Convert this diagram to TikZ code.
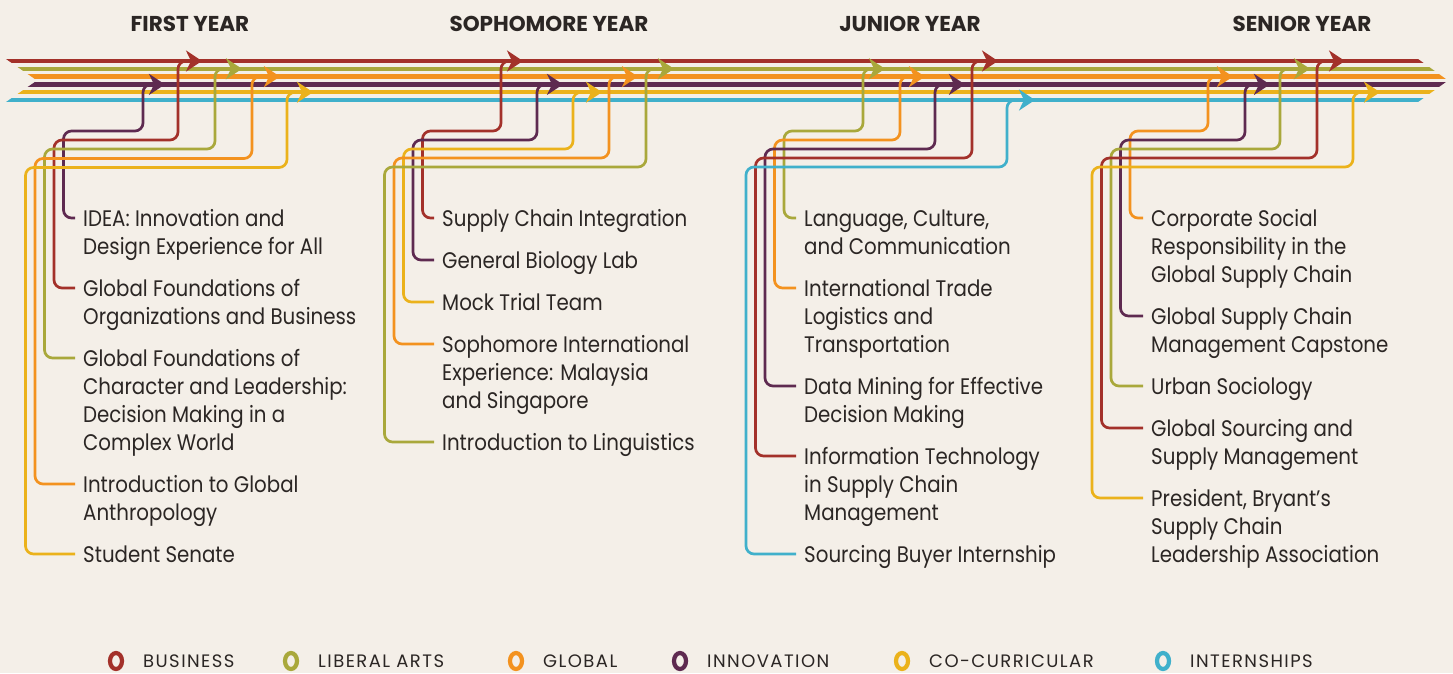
\documentclass[tikz,border=0pt]{standalone}
\usepackage{fontspec}
\setmainfont{Poppins}[FakeStretch=0.88]
\newfontfamily\headfont{Poppins}
\newfontfamily\legfont{Poppins}[LetterSpace=8]
\usetikzlibrary{arrows.meta}
\definecolor{bg}{HTML}{F4EFE8}
\definecolor{cR}{HTML}{A3312A}
\definecolor{cO}{HTML}{A9A83B}
\definecolor{cG}{HTML}{F3921F}
\definecolor{cP}{HTML}{5E2A50}
\definecolor{cY}{HTML}{EBB21B}
\definecolor{cT}{HTML}{40B0CB}
\definecolor{txt}{HTML}{2B2624}
\newcommand{\lbltxt}[1]{\begin{tabular}[t]{@{}l@{}}#1\end{tabular}}
\tikzset{
  br/.style={line width=2.7pt, rounded corners=8pt, -{Stealth[length=16pt,width=21pt,inset=5pt]}},
  lbl/.style={anchor=base west, inner sep=0pt, text=txt, font=\fontsize{22.5}{28}\selectfont},
  head/.style={anchor=base, inner sep=0pt, text=txt, font=\headfont\bfseries\fontsize{21.5}{24}\selectfont},
  leg/.style={anchor=base west, inner sep=0pt, text=txt, font=\legfont\fontsize{18}{20}\selectfont},
  ring/.style={line width=4.2pt},
}
\begin{document}
\begin{tikzpicture}[x=1pt,y=-1pt]
\fill[bg] (0,0) rectangle (1453,673);
\useasboundingbox (0,0) rectangle (1453,673);
% headings
\node[head] (h1) at (190,31) {FIRST YEAR};
\node[head] (h2) at (549,31) {SOPHOMORE YEAR};
\node[head] (h3) at (910,31) {JUNIOR YEAR};
\node[head] (h4) at (1302,31) {SENIOR YEAR};
% main lines
\begin{scope}
\clip (0.2,55) -- (1412.5,55) -- (1448,80.5) -- (1412.5,106) -- (0.2,106) -- (37,80.5) -- cycle;
\foreach \c/\y in {cR/61, cO/68.8, cG/76.6, cP/84.4, cY/92.2, cT/100}
  \draw[color=\c, line width=4.3pt] (0,\y) -- (1453,\y);
\end{scope}
% arrow tip coordinates
\coordinate (a11) at (165,84.4);
\coordinate (a12) at (202,61);
\coordinate (a13) at (242,68.8);
\coordinate (a14) at (280,76.6);
\coordinate (a15) at (313,92.2);
\coordinate (a21) at (523,61);
\coordinate (a22) at (563,84.4);
\coordinate (a23) at (602,92.2);
\coordinate (a24) at (638,76.6);
\coordinate (a25) at (674,68.8);
\coordinate (a31) at (885,68.8);
\coordinate (a32) at (925,76.6);
\coordinate (a33) at (965,84.4);
\coordinate (a34) at (998,61);
\coordinate (a35) at (1035,100);
\coordinate (a41) at (1233,76.6);
\coordinate (a42) at (1270,84.4);
\coordinate (a43) at (1310,68.8);
\coordinate (a44) at (1345,61);
\coordinate (a45) at (1380,92.2);
% labels first year
\node[lbl] (l11) at (83,226) {\lbltxt{IDEA: Innovation and\\Design Experience for All}};
\node[lbl] (l12) at (83,296) {\lbltxt{Global Foundations of\\Organizations and Business}};
\node[lbl] (l13) at (83,366) {\lbltxt{Global Foundations of\\Character and Leadership:\\Decision Making in a\\Complex World}};
\node[lbl] (l14) at (83,492) {\lbltxt{Introduction to Global\\Anthropology}};
\node[lbl] (l15) at (83,562) {\lbltxt{Student Senate}};
% sophomore
\node[lbl] (l21) at (442,226) {\lbltxt{Supply Chain Integration}};
\node[lbl] (l22) at (442,268) {\lbltxt{General Biology Lab}};
\node[lbl] (l23) at (442,310) {\lbltxt{Mock Trial Team}};
\node[lbl] (l24) at (442,352) {\lbltxt{Sophomore International\\Experience: Malaysia\\and Singapore}};
\node[lbl] (l25) at (442,450) {\lbltxt{Introduction to Linguistics}};
% junior
\node[lbl] (l31) at (804,226) {\lbltxt{Language, Culture,\\and Communication}};
\node[lbl] (l32) at (804,296) {\lbltxt{International Trade\\Logistics and\\Transportation}};
\node[lbl] (l33) at (804,394) {\lbltxt{Data Mining for Effective\\Decision Making}};
\node[lbl] (l34) at (804,464) {\lbltxt{Information Technology\\in Supply Chain\\Management}};
\node[lbl] (l35) at (804,562) {\lbltxt{Sourcing Buyer Internship}};
% senior
\node[lbl] (l41) at (1151,226) {\lbltxt{Corporate Social\\Responsibility in the\\Global Supply Chain}};
\node[lbl] (l42) at (1151,324) {\lbltxt{Global Supply Chain\\Management Capstone}};
\node[lbl] (l43) at (1151,394) {\lbltxt{Urban Sociology}};
\node[lbl] (l44) at (1151,436) {\lbltxt{Global Sourcing and\\Supply Management}};
\node[lbl] (l45) at (1151,506) {\lbltxt{President, Bryant’s\\Supply Chain\\Leadership Association}};
% branches first year
\draw[br, cP] ([shift={(-8pt,8pt)}]l11.base west) -| (63.5,131) -| (143,84.4) -- (a11);
\draw[br, cR] ([shift={(-8pt,8pt)}]l12.base west) -| (54,140) -| (178,61) -- (a12);
\draw[br, cO] ([shift={(-8pt,8pt)}]l13.base west) -| (44.5,149) -| (215,68.8) -- (a13);
\draw[br, cG] ([shift={(-8pt,8pt)}]l14.base west) -| (35,158.5) -| (252,76.6) -- (a14);
\draw[br, cY] ([shift={(-8pt,8pt)}]l15.base west) -| (25.5,167.5) -| (287,92.2) -- (a15);
% sophomore
\draw[br, cR] ([shift={(-8pt,8pt)}]l21.base west) -| (422.5,131) -| (501,61) -- (a21);
\draw[br, cP] ([shift={(-8pt,8pt)}]l22.base west) -| (413,140) -| (537,84.4) -- (a22);
\draw[br, cY] ([shift={(-8pt,8pt)}]l23.base west) -| (403.5,149) -| (573,92.2) -- (a23);
\draw[br, cG] ([shift={(-8pt,8pt)}]l24.base west) -| (394,158) -| (609,76.6) -- (a24);
\draw[br, cO] ([shift={(-8pt,8pt)}]l25.base west) -| (384.5,167) -| (646,68.8) -- (a25);
% junior
\draw[br, cO] ([shift={(-8pt,8pt)}]l31.base west) -| (784,131) -| (863,68.8) -- (a31);
\draw[br, cG] ([shift={(-8pt,8pt)}]l32.base west) -| (774.5,140) -| (900,76.6) -- (a32);
\draw[br, cP] ([shift={(-8pt,8pt)}]l33.base west) -| (765,149) -| (935,84.4) -- (a33);
\draw[br, cR] ([shift={(-8pt,8pt)}]l34.base west) -| (755.5,158) -| (972,61) -- (a34);
\draw[br, cT] ([shift={(-8pt,8pt)}]l35.base west) -| (746,167) -| (1007,100) -- (a35);
% senior
\draw[br, cG] ([shift={(-8pt,8pt)}]l41.base west) -| (1130,131) -| (1208,76.6) -- (a41);
\draw[br, cP] ([shift={(-8pt,8pt)}]l42.base west) -| (1120.5,140) -| (1245,84.4) -- (a42);
\draw[br, cO] ([shift={(-8pt,8pt)}]l43.base west) -| (1111,149) -| (1280,68.8) -- (a43);
\draw[br, cR] ([shift={(-8pt,8pt)}]l44.base west) -| (1101.5,158) -| (1317,61) -- (a44);
\draw[br, cY] ([shift={(-8pt,8pt)}]l45.base west) -| (1092,167) -| (1353,92.2) -- (a45);
% legend
\draw[ring, cR] (116,661) ellipse [x radius=6pt, y radius=8pt];
\node[leg] (g1) at (143,667.5) {BUSINESS};
\draw[ring, cO] (291,661) ellipse [x radius=6pt, y radius=8pt];
\node[leg] (g2) at (318,667.5) {LIBERAL ARTS};
\draw[ring, cG] (516,661) ellipse [x radius=6pt, y radius=8pt];
\node[leg] (g3) at (543,667.5) {GLOBAL};
\draw[ring, cP] (680,661) ellipse [x radius=6pt, y radius=8pt];
\node[leg] (g4) at (707,667.5) {INNOVATION};
\draw[ring, cY] (902,661) ellipse [x radius=6pt, y radius=8pt];
\node[leg] (g5) at (929,667.5) {CO-CURRICULAR};
\draw[ring, cT] (1163,661) ellipse [x radius=6pt, y radius=8pt];
\node[leg] (g6) at (1190,667.5) {INTERNSHIPS};
\end{tikzpicture}
\end{document}
